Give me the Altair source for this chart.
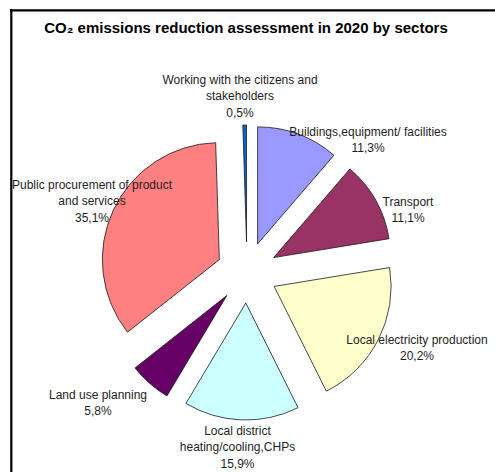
import math
import altair as alt
import pandas as pd

# ---- data ----
title_text = "CO\u2082 emissions reduction assessment in 2020 by sectors"
sectors = [
    "Buildings,equipment/ facilities",
    "Transport",
    "Local electricity production",
    "Local district\nheating/cooling,CHPs",
    "Land use planning",
    "Public procurement of product\nand services",
    "Working with the citizens and\nstakeholders",
]
values = [11.3, 11.1, 20.2, 15.9, 5.8, 35.1, 0.5]
colors = ["#9999FF", "#993366", "#FFFFCC", "#CCFFFF", "#660066", "#FF8080", "#0066CC"]

# ---- layout (label anchor positions: centre x, first-line y) ----
label_x = [368, 408, 417, 237.5, 98, 92, 240]
label_y = [131.5, 201.5, 340, 431, 395, 185, 80]

FONT = "Liberation Sans"
CX, CY, R, OFF = 247, 272.5, 117, 30.5
W, H = 495, 472

pct = [f"{v:.1f}".replace(".", ",") + "%" for v in values]
df = pd.DataFrame({
    "idx": list(range(len(sectors))),
    "sector": sectors,
    "value": values,
    "label": [s + "\n" + p for s, p in zip(sectors, pct)],
    "lx": label_x,
    "ly": label_y,
})

pie = (
    alt.Chart(df)
    .transform_joinaggregate(total="sum(value)")
    .transform_window(cum="sum(value)", sort=[alt.SortField("idx")])
    .transform_calculate(
        f0="(datum.cum - datum.value) / datum.total",
        f1="datum.cum / datum.total",
    )
    .transform_calculate(mid="(datum.f0 + datum.f1) * PI")
    .transform_calculate(
        px=f"{CX} + {OFF} * sin(datum.mid)",
        py=f"{CY} - {OFF} * cos(datum.mid)",
    )
    .mark_arc(outerRadius=R, stroke="#1a1a1a", strokeWidth=0.8)
    .encode(
        theta=alt.Theta("f0:Q", stack=False,
                        scale=alt.Scale(domain=[0, 1], range=[0, 2 * math.pi])),
        theta2="f1:Q",
        x=alt.X("px:Q", scale=None, axis=None),
        y=alt.Y("py:Q", scale=None, axis=None),
        color=alt.Color("sector:N", scale=alt.Scale(domain=sectors, range=colors), legend=None),
    )
)

labels = (
    alt.Chart(df)
    .mark_text(font=FONT, fontSize=12, lineBreak="\n", lineHeight=16.3,
               align="center", baseline="middle", color="#1e1e1e")
    .encode(
        x=alt.X("lx:Q", scale=None, axis=None),
        y=alt.Y("ly:Q", scale=None, axis=None),
        text="label:N",
    )
)

title_df = pd.DataFrame({"t": [title_text]})
title = (
    alt.Chart(title_df)
    .mark_text(font=FONT, fontSize=15, fontWeight="bold", align="center",
               baseline="middle", color="#000000")
    .encode(x=alt.value(246), y=alt.value(28), text="t:N")
)

frame_df = pd.DataFrame({"k": [0]})
left_border = alt.Chart(frame_df).mark_rule(color="black", strokeWidth=2.2).encode(
    x=alt.value(11.3), y=alt.value(9), y2=alt.value(H)
)
top_border = alt.Chart(frame_df).mark_rule(color="black", strokeWidth=2.2).encode(
    x=alt.value(10.2), x2=alt.value(W), y=alt.value(10.3)
)

chart = (
    alt.layer(pie, labels, title, left_border, top_border)
    .properties(width=W, height=H, padding=0,
                autosize=alt.AutoSizeParams(type="none"), background="white")
    .configure_view(stroke=None)
)

chart.save("out.html", embed_options={"renderer": "svg", "actions": False})
